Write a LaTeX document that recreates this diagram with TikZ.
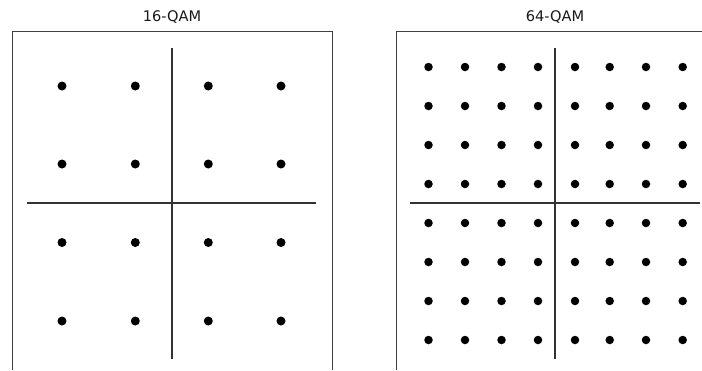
\documentclass[tikz,border=0pt]{standalone}
\usepackage{fontspec}
\setmainfont{DejaVu Sans}
\begin{document}
\begin{tikzpicture}[x=1pt,y=-1pt,
  frame/.style={draw=black!75,line width=1pt},
  axis/.style={draw=black!80,line width=2pt},
  dot/.style={circle,fill=black,inner sep=0pt,minimum size=9pt},
  dotsm/.style={circle,fill=black,inner sep=0pt,minimum size=8.5pt},
  title/.style={font=\fontsize{14.6}{16}\selectfont,text=black!90}]
\useasboundingbox (0,0) rectangle (702,370);
% left panel
\draw[frame] (12,370) -- (12,31.5) -- (332,31.5) -- (332,370);
\node[title] (t16) at (172,17) {16-QAM};
\coordinate (l16a) at (171.5,48);
\coordinate (l16b) at (171.5,359);
\coordinate (l16c) at (27,203);
\coordinate (l16d) at (316,203);
\draw[axis] (l16a) -- (l16b);
\draw[axis] (l16c) -- (l16d);
\foreach \i/\x in {1/62,2/135.3,3/208.3,4/281}
  \foreach \j/\y in {1/86,2/164,3/242.5,4/321}
    \node[dot] (p16-\i-\j) at (\x,\y) {};
% right panel
\draw[frame] (396,370) -- (396,31.5) -- (703,31.5);
\node[title] (t64) at (555,17) {64-QAM};
\coordinate (l64a) at (554.5,48);
\coordinate (l64b) at (554.5,359);
\coordinate (l64c) at (410,203);
\coordinate (l64d) at (700,203);
\draw[axis] (l64a) -- (l64b);
\draw[axis] (l64c) -- (l64d);
\foreach \i/\x in {1/428.5,2/465,3/501.5,4/538,5/575,6/609.7,7/646,8/682.7}
  \foreach \j/\y in {1/67,2/106,3/145,4/184,5/223,6/262,7/301,8/340}
    \node[dotsm] (p64-\i-\j) at (\x,\y) {};
\end{tikzpicture}
\end{document}
